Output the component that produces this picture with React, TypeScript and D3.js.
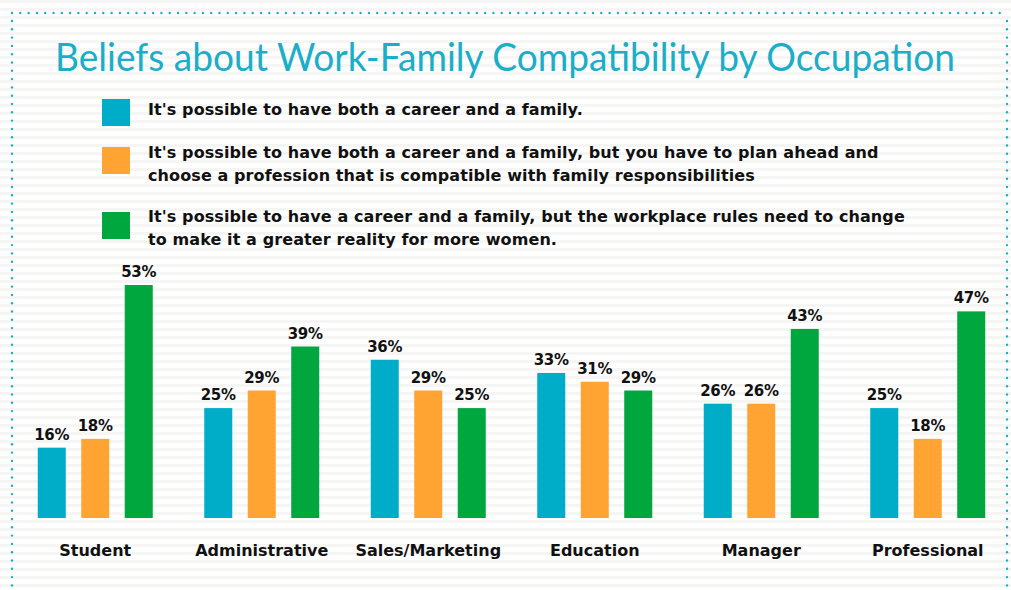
import React, { useEffect, useRef } from 'react'
import * as d3 from 'd3'

const categories = ['Student', 'Administrative', 'Sales/Marketing', 'Education', 'Manager', 'Professional']
const seriesKeys = ['both', 'plan', 'rules']
const bothValues = [16, 25, 36, 33, 26, 25]
const planValues = [18, 29, 29, 31, 26, 18]
const rulesValues = [53, 39, 25, 29, 43, 47]
const seriesColors = ['#00adc9', '#ffa332', '#00a63e']
const legendLines = [
  ["It's possible to have both a career and a family."],
  [
    "It's possible to have both a career and a family, but you have to plan ahead and",
    'choose a profession that is compatible with family responsibilities',
  ],
  [
    "It's possible to have a career and a family, but the workplace rules need to change",
    'to make it a greater reality for more women.',
  ],
]
const title = 'Beliefs about Work-Family Compatibility by Occupation'

const W = 1011
const H = 590

export default function App() {
  const ref = useRef<SVGSVGElement | null>(null)

  useEffect(() => {
    if (!ref.current) return
    document.body.style.margin = '0'
    const svg = d3.select(ref.current)
    svg.selectAll('*').remove()

    const seriesValues = [bothValues, planValues, rulesValues]
    const rows = categories.map((c, i) => ({
      cat: c,
      vals: seriesKeys.map((k, j) => ({ key: k, v: seriesValues[j][i], color: seriesColors[j] })),
    }))

    // background + faint stripes
    svg.append('rect').attr('width', W).attr('height', H).attr('fill', '#ffffff')
    svg
      .append('g')
      .selectAll('rect')
      .data(d3.range(0, H, 8))
      .join('rect')
      .attr('x', 0)
      .attr('y', (d) => d)
      .attr('width', W)
      .attr('height', 3)
      .attr('fill', '#f5f5f3')

    // dotted frame
    const frame = svg.append('g').attr('fill', '#1aaec8')
    frame
      .selectAll('circle.top')
      .data(d3.range(12, 1008, 8.3))
      .join('circle')
      .attr('class', 'top')
      .attr('cx', (d) => d)
      .attr('cy', 13)
      .attr('r', 1.2)
    frame
      .selectAll('circle.left')
      .data(d3.range(21, H, 8.3))
      .join('circle')
      .attr('class', 'left')
      .attr('cx', 12)
      .attr('cy', (d) => d)
      .attr('r', 1.2)
    frame
      .selectAll('circle.right')
      .data(d3.range(21, H, 8.3))
      .join('circle')
      .attr('class', 'right')
      .attr('cx', 1007)
      .attr('cy', (d) => d)
      .attr('r', 1.2)

    // title
    svg
      .append('text')
      .attr('x', 55)
      .attr('y', 71)
      .attr('textLength', 900)
      .attr('lengthAdjust', 'spacingAndGlyphs')
      .attr('font-family', 'Lato, sans-serif')
      .attr('font-size', 39)
      .attr('fill', '#1aaec8')
      .text(title)

    // legend
    const legendY = [99, 147, 212]
    const firstBaseline = [16, 11, 10]
    const legend = svg
      .append('g')
      .selectAll('g')
      .data(legendLines)
      .join('g')
      .attr('transform', (_, i) => `translate(102,${legendY[i]})`)
    legend
      .append('rect')
      .attr('width', 28)
      .attr('height', 27)
      .attr('fill', (_, i) => seriesColors[i])
    legend.each(function (lines, gi) {
      d3.select(this)
        .selectAll('text')
        .data(lines)
        .join('text')
        .attr('x', 46)
        .attr('y', (_, i) => firstBaseline[gi] + i * 23)
        .attr('font-family', '"DejaVu Sans", sans-serif')
        .attr('font-weight', 'bold')
        .attr('font-size', 16)
        .attr('letter-spacing', 0.1)
        .attr('fill', '#111')
        .text((d) => d)
    })

    // bars
    const x0 = d3.scaleBand<string>().domain(categories).range([12, 1011])
    const x1 = d3
      .scaleBand<string>()
      .domain(seriesKeys)
      .range([(x0.step() - 115) / 2, (x0.step() + 115) / 2])
      .paddingInner(0.356)
    const y = d3.scaleLinear().domain([0, 53]).range([518, 285])

    const groups = svg
      .append('g')
      .selectAll('g')
      .data(rows)
      .join('g')
      .attr('transform', (d) => `translate(${x0(d.cat)},0)`)

    groups
      .selectAll('rect')
      .data((d) => d.vals)
      .join('rect')
      .attr('x', (d) => x1(d.key)!)
      .attr('y', (d) => y(d.v))
      .attr('width', x1.bandwidth())
      .attr('height', (d) => y(0) - y(d.v))
      .attr('fill', (d) => d.color)

    groups
      .selectAll('text.val')
      .data((d) => d.vals)
      .join('text')
      .attr('class', 'val')
      .attr('x', (d) => x1(d.key)! + x1.bandwidth() / 2)
      .attr('y', (d) => y(d.v) - 8)
      .attr('text-anchor', 'middle')
      .attr('font-family', '"DejaVu Sans", sans-serif')
      .attr('font-weight', 'bold')
      .attr('font-size', 15)
      .attr('letter-spacing', -0.3)
      .attr('fill', '#111')
      .text((d) => `${d.v}%`)

    groups
      .append('text')
      .attr('x', x0.step() / 2)
      .attr('y', 556)
      .attr('text-anchor', 'middle')
      .attr('font-family', '"DejaVu Sans", sans-serif')
      .attr('font-weight', 'bold')
      .attr('font-size', 16)
      .attr('fill', '#111')
      .text((d) => d.cat)
  }, [])

  return <svg ref={ref} width={W} height={H} style={{ display: 'block' }} role="img" aria-label={title} />
}
